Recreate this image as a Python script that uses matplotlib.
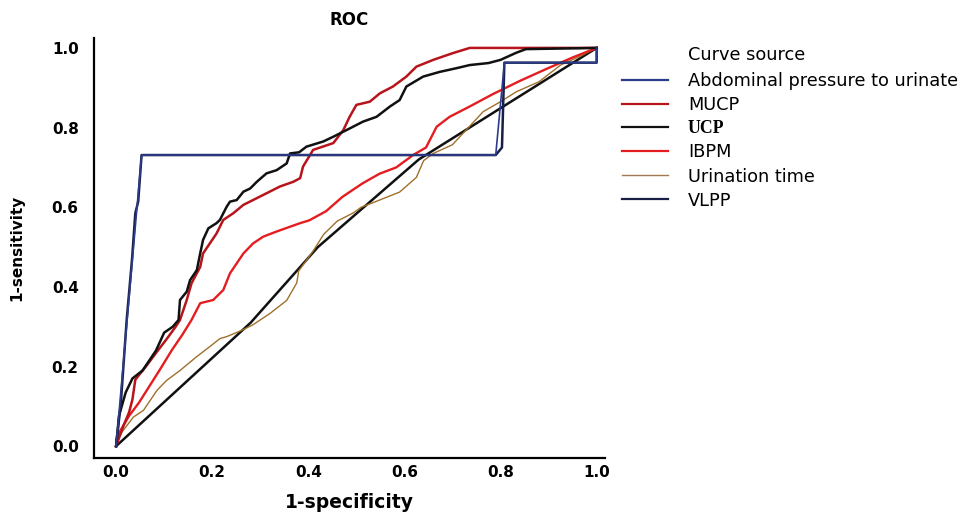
import matplotlib
matplotlib.use("Agg")
import matplotlib.pyplot as plt
from matplotlib.lines import Line2D

plt.rcParams['font.family'] = ['DejaVu Sans']

# ROC curves (1-specificity, sensitivity)
ucp_x = [0.0, 0.006, 0.02, 0.034, 0.055, 0.083, 0.10, 0.118, 0.13, 0.133, 0.147, 0.154, 0.168,
         0.175, 0.181, 0.192, 0.209, 0.216, 0.23, 0.237, 0.251, 0.265, 0.279, 0.293, 0.313,
         0.334, 0.355, 0.362, 0.381, 0.396, 0.431, 0.452, 0.48, 0.514, 0.542, 0.57, 0.59,
         0.604, 0.639, 0.674, 0.708, 0.736, 0.775, 0.80, 0.833, 0.853, 1.0]
ucp_y = [0.0, 0.076, 0.135, 0.17, 0.19, 0.24, 0.285, 0.30, 0.317, 0.367, 0.388, 0.417, 0.442,
         0.484, 0.518, 0.547, 0.56, 0.568, 0.601, 0.614, 0.618, 0.639, 0.647, 0.664, 0.685,
         0.693, 0.71, 0.735, 0.738, 0.752, 0.765, 0.777, 0.794, 0.815, 0.827, 0.853, 0.869,
         0.903, 0.928, 0.94, 0.949, 0.957, 0.962, 0.97, 0.988, 0.997, 1.0]

mucp_x = [0.0, 0.015, 0.027, 0.034, 0.04, 0.062, 0.083, 0.104, 0.124, 0.133, 0.147, 0.157,
          0.175, 0.181, 0.195, 0.209, 0.223, 0.244, 0.265, 0.285, 0.313, 0.341, 0.369, 0.383,
          0.389, 0.41, 0.452, 0.473, 0.486, 0.50, 0.528, 0.549, 0.576, 0.604, 0.625, 0.66,
          0.701, 0.736, 1.0]
mucp_y = [0.0, 0.05, 0.085, 0.117, 0.167, 0.2, 0.234, 0.267, 0.30, 0.317, 0.367, 0.409,
          0.45, 0.484, 0.509, 0.534, 0.568, 0.585, 0.606, 0.618, 0.635, 0.652, 0.664, 0.673,
          0.702, 0.744, 0.761, 0.794, 0.827, 0.857, 0.865, 0.886, 0.903, 0.928, 0.953, 0.97,
          0.987, 1.0, 1.0]

ibpm_x = [0.0, 0.002, 0.027, 0.048, 0.069, 0.09, 0.117, 0.138, 0.157, 0.175, 0.202, 0.223,
          0.237, 0.251, 0.265, 0.285, 0.306, 0.334, 0.362, 0.383, 0.402, 0.437, 0.471, 0.513,
          0.548, 0.583, 0.618, 0.645, 0.667, 0.694, 0.736, 0.784, 0.84, 0.895, 0.95, 1.0]
ibpm_y = [0.0, 0.025, 0.076, 0.11, 0.15, 0.19, 0.243, 0.28, 0.317, 0.359, 0.367, 0.392,
          0.434, 0.459, 0.484, 0.509, 0.526, 0.539, 0.551, 0.56, 0.567, 0.59, 0.626, 0.66,
          0.684, 0.70, 0.731, 0.75, 0.802, 0.827, 0.853, 0.884, 0.917, 0.947, 0.976, 1.0]

urination_x = [0.0, 0.015, 0.036, 0.057, 0.085, 0.105, 0.133, 0.168, 0.195, 0.216, 0.23, 0.26,
               0.285, 0.32, 0.355, 0.376, 0.38, 0.41, 0.432, 0.46, 0.494, 0.51, 0.542, 0.59,
               0.625, 0.64, 0.66, 0.70, 0.764, 0.80, 0.833, 0.88, 0.925, 0.967, 1.0]
urination_y = [0.015, 0.04, 0.073, 0.09, 0.14, 0.165, 0.19, 0.225, 0.25, 0.27, 0.275, 0.29,
               0.305, 0.333, 0.366, 0.41, 0.44, 0.49, 0.532, 0.565, 0.586, 0.60, 0.615, 0.638,
               0.675, 0.717, 0.735, 0.757, 0.84, 0.865, 0.89, 0.915, 0.957, 0.98, 1.0]

vlpp_x = [0.0, 0.01, 0.022, 0.033, 0.04, 0.046, 0.053, 0.79, 0.803, 0.808, 1.0, 1.0]
vlpp_y = [0.0, 0.11, 0.317, 0.467, 0.585, 0.614, 0.731, 0.731, 0.75, 0.963, 0.963, 1.0]

abdominal_x = [0.0, 0.053, 0.79, 0.808, 1.0, 1.0]
abdominal_y = [0.0, 0.731, 0.731, 0.963, 0.963, 1.0]

# reference line as it appears in the picture
ref_x = [0.0, 0.28, 0.42, 0.63, 1.0]
ref_y = [0.0, 0.31, 0.50, 0.72, 1.0]

labels = ['Abdominal pressure to urinate', 'MUCP', 'UCP', 'IBPM', 'Urination time', 'VLPP']
colors = ['#2b3c8e', '#b8141c', '#111111', '#e41e20', '#a07a50', '#1a2045']

fig = plt.figure(figsize=(9.62, 5.13), dpi=100)
ax = fig.add_axes([0.0977, 0.107, 0.531, 0.819])

ax.plot(ref_x, ref_y, color='#111111', lw=1.8, zorder=2)
ax.plot(urination_x, urination_y, color='#a0702a', lw=1.0, zorder=3)
ax.plot(ibpm_x, ibpm_y, color=colors[3], lw=1.7, zorder=4)
ax.plot(mucp_x, mucp_y, color=colors[1], lw=1.8, zorder=5)
ax.plot(ucp_x, ucp_y, color=colors[2], lw=1.8, zorder=6)
ax.plot(vlpp_x, vlpp_y, color=colors[5], lw=1.8, zorder=7)
ax.plot(abdominal_x, abdominal_y, color=colors[0], lw=1.2, zorder=8)

ax.set_xlim(-0.046, 1.017)
ax.set_ylim(-0.03, 1.025)
ticks = [0.0, 0.2, 0.4, 0.6, 0.8, 1.0]
tick_labels = ['0.0', '0.2', '0.4', '0.6', '0.8', '1.0']
ax.set_xticks(ticks)
ax.set_yticks(ticks)
ax.set_xticklabels(tick_labels, fontweight='bold', fontsize=11)
ax.set_yticklabels(tick_labels, fontweight='bold', fontsize=11)
ax.tick_params(axis='both', length=0)
ax.tick_params(axis='x', pad=5)
ax.tick_params(axis='y', pad=11)
for s in ['top', 'right']:
    ax.spines[s].set_visible(False)
for s in ['left', 'bottom']:
    ax.spines[s].set_linewidth(1.6)

ax.set_xlabel('1-specificity', fontweight='bold', fontsize=13.5, labelpad=9)
ax.set_ylabel('1-sensitivity', fontweight='bold', fontsize=11,
              family=['Liberation Sans Narrow', 'DejaVu Sans'], labelpad=20)
ax.set_title('ROC', fontweight='bold', fontsize=12, pad=9)

handles = [Line2D([0], [0], color=c, lw=1.6) for c in colors]
handles[4].set_linewidth(1.0)
leg = fig.legend(handles, labels, loc='upper left', bbox_to_anchor=(0.6466, 0.859),
                 bbox_transform=fig.transFigure, frameon=False, borderpad=0, borderaxespad=0,
                 prop={'family': 'DejaVu Sans', 'size': 12.8}, handlelength=2.6,
                 handletextpad=1.1, labelspacing=0.34)
ucp_text = leg.get_texts()[2]
ucp_text.set_fontfamily(['Liberation Serif', 'DejaVu Serif'])
ucp_text.set_fontweight('bold')
fig.text(0.715, 0.893, 'Curve source', family='DejaVu Sans', fontsize=12.8, ha='left', va='center')

fig.savefig('out.png', dpi=100)
